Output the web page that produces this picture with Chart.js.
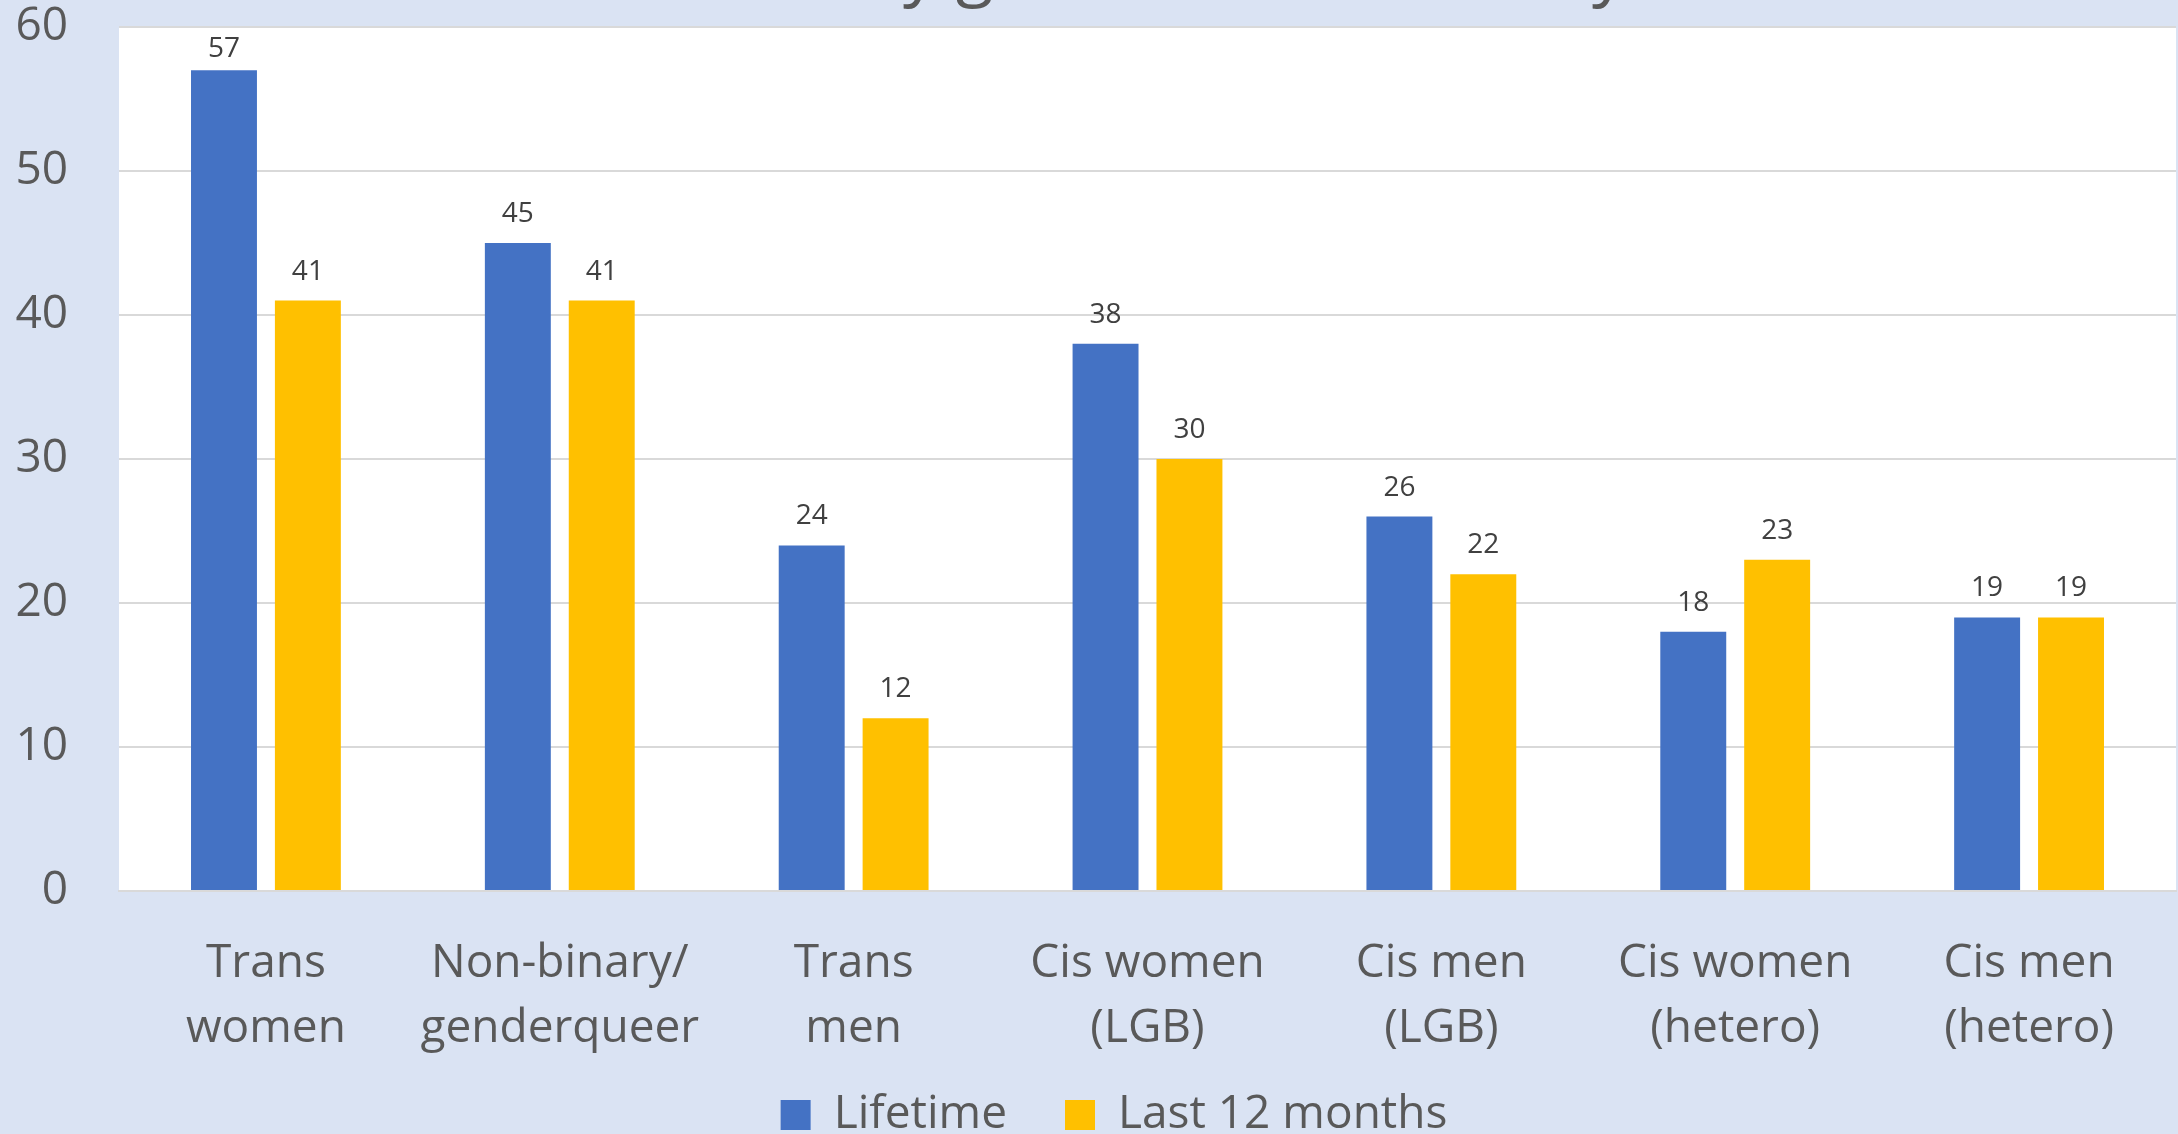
<!DOCTYPE html>
<html>
<head>
<meta charset="utf-8">
<script src="https://cdn.jsdelivr.net/npm/chart.js@4/dist/chart.umd.min.js"></script>
<style>
  html, body { margin: 0; padding: 0; background: #dae3f3; overflow: hidden; }
  #wrap { width: 2178px; height: 1134px; }
</style>
</head>
<body>
<div id="wrap"><canvas id="chart"></canvas></div>
<script>
const categories = [
    ['Trans', 'women'],
    ['Non-binary/', 'genderqueer'],
    ['Trans', 'men'],
    ['Cis women', '(LGB)'],
    ['Cis men', '(LGB)'],
    ['Cis women', '(hetero)'],
    ['Cis men', '(hetero)']
];
const lifetime = [57, 45, 24, 38, 26, 18, 19];
const last12Months = [41, 41, 12, 30, 22, 23, 19];
const yTicks = [0, 10, 20, 30, 40, 50, 60];
const titleText = 'Sexual violence by gender and sexuality';

const textColor = '#595959';
const fontName = '"Open Sans", "Noto Sans", sans-serif';

// white plot area on the light blue slide
const plotBackground = {
    id: 'plotBackground',
    beforeDraw(chart) {
        const { ctx, chartArea } = chart;
        ctx.save();
        ctx.fillStyle = '#ffffff';
        ctx.fillRect(chartArea.left, chartArea.top, chartArea.right - chartArea.left, chartArea.bottom - chartArea.top);
        ctx.restore();
    }
};

// legend sits a bit right of centre and tucked up under the axis labels
const legendShift = {
    id: 'legendShift',
    afterLayout(chart) {
        chart.legend.left += 26;
        chart.legend.right += 26;
        chart.legend.top -= 47;
        chart.legend.bottom -= 47;
    }
};

// value labels over each bar, kept inside the plot area
const valueLabels = {
    id: 'valueLabels',
    afterDatasetsDraw(chart) {
        const ctx = chart.ctx;
        const minY = chart.chartArea.top + 30;
        ctx.save();
        ctx.font = '28px ' + fontName;
        ctx.fillStyle = '#404040';
        ctx.textAlign = 'center';
        ctx.textBaseline = 'alphabetic';
        chart.data.datasets.forEach((ds, i) => {
            chart.getDatasetMeta(i).data.forEach((bar, j) => {
                ctx.fillText(String(ds.data[j]), bar.x, Math.max(bar.y - 21, minY));
            });
        });
        ctx.restore();
    }
};

// slide title, mostly cut off above the picture
const slideTitle = {
    id: 'slideTitle',
    afterDraw(chart) {
        const ctx = chart.ctx;
        ctx.save();
        ctx.font = '60px ' + fontName;
        const span = ctx.measureText('y gender and sexualit').width;
        const size = 60 * (1592 - 903) / span;
        ctx.font = size + 'px ' + fontName;
        const before = ctx.measureText('Sexual violence b').width;
        ctx.fillStyle = textColor;
        ctx.textAlign = 'left';
        ctx.textBaseline = 'alphabetic';
        ctx.fillText(titleText, 903 - before, 9 - size * 0.24);
        ctx.restore();
    }
};

new Chart(document.getElementById('chart'), {
    type: 'bar',
    data: {
        labels: categories,
        datasets: [
            {
                label: 'Lifetime',
                data: lifetime,
                backgroundColor: '#4472c4',
                categoryPercentage: 0.571,
                barPercentage: 0.786
            },
            {
                label: 'Last 12 months',
                data: last12Months,
                backgroundColor: '#ffc000',
                categoryPercentage: 0.571,
                barPercentage: 0.786
            }
        ]
    },
    options: {
        responsive: true,
        maintainAspectRatio: false,
        animation: false,
        layout: {
            padding: { top: 27, right: 2, left: 0, bottom: -61 }
        },
        plugins: {
            legend: {
                position: 'bottom',
                labels: {
                    boxWidth: 30,
                    boxHeight: 30,
                    padding: 58,
                    color: textColor,
                    font: { family: fontName, size: 46 }
                }
            },
            tooltip: { enabled: false }
        },
        scales: {
            x: {
                grid: { display: false, drawTicks: false },
                border: { display: true, color: '#d9d9d9', width: 2 },
                ticks: {
                    color: textColor,
                    padding: 40,
                    maxRotation: 0,
                    autoSkip: false,
                    font: { family: fontName, size: 46, lineHeight: 1.413 }
                },
                afterFit(scale) {
                    scale.height = 190;
                    scale.paddingLeft = 0;
                    scale.paddingRight = 0;
                }
            },
            y: {
                min: yTicks[0],
                max: yTicks[yTicks.length - 1],
                grid: { color: '#d9d9d9', lineWidth: 2, drawTicks: false },
                border: { display: false },
                afterBuildTicks(scale) {
                    scale.ticks = yTicks.map(v => ({ value: v }));
                },
                ticks: {
                    color: textColor,
                    padding: 51,
                    font: { family: fontName, size: 46, lineHeight: 1.0 }
                },
                afterFit(scale) {
                    scale.width = 119;
                    scale.paddingTop = 0;
                    scale.paddingBottom = 0;
                }
            }
        }
    },
    plugins: [plotBackground, legendShift, valueLabels, slideTitle]
});
</script>
</body>
</html>
